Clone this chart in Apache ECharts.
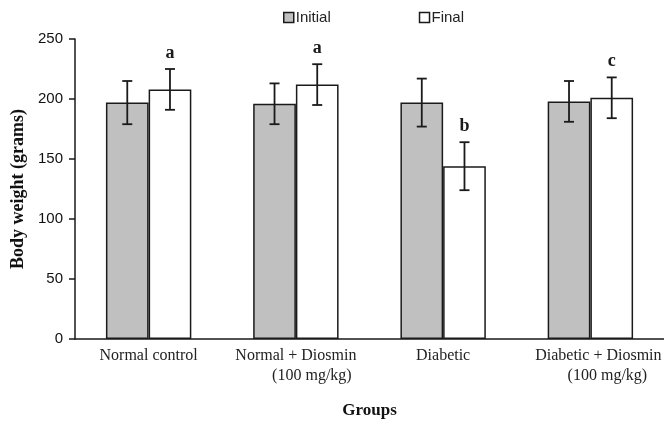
<!DOCTYPE html>
<html>
<head>
<meta charset="utf-8">
<script src="https://cdn.jsdelivr.net/npm/echarts@6/dist/echarts.min.js"></script>
<style>html,body{margin:0;padding:0;background:#fff;}#c{width:664px;height:422px;}</style>
</head>
<body>
<div id="c"></div>
<script>
var categories = ['Normal control', 'Normal + Diosmin\n(100 mg/kg)', 'Diabetic', 'Diabetic + Diosmin\n(100 mg/kg)'];
var initialValues = [197, 196, 197, 198];
var initialErrors = [18, 17, 20, 17];
var finalValues = [208, 212, 144, 201];
var finalErrors = [17, 17, 20, 17];
var finalLetters = ['a', 'a', 'b', 'c'];
var yTicks = [0, 50, 100, 150, 200, 250];

var CAT_GAP = 0.42;
var INK = '#1a1a1a';

function errorSeries(values, errors, side, letters) {
  return {
    type: 'custom',
    silent: true,
    z: 5,
    data: values.map(function (v, i) { return [i, v, errors[i]]; }),
    renderItem: function (params, api) {
      var i = api.value(0), v = api.value(1), e = api.value(2);
      var band = api.size([1, 0])[0];
      var bw = band * (1 - CAT_GAP) / 2;
      var c = api.coord([i, v]);
      var x = c[0] + side * bw / 2;
      var top = api.coord([i, v + e])[1];
      var bot = api.coord([i, v - e])[1];
      var cap = 5;
      var st = { stroke: INK, lineWidth: 1.8 };
      var children = [
        { type: 'line', shape: { x1: x, y1: top, x2: x, y2: bot }, style: st },
        { type: 'line', shape: { x1: x - cap, y1: top, x2: x + cap, y2: top }, style: st },
        { type: 'line', shape: { x1: x - cap, y1: bot, x2: x + cap, y2: bot }, style: st }
      ];
      if (letters) {
        children.push({
          type: 'text',
          style: {
            text: letters[params.dataIndex], x: x, y: top - 7,
            align: 'center', verticalAlign: 'bottom',
            font: 'bold 18px "Liberation Serif", "Times New Roman", serif',
            fill: INK
          }
        });
      }
      return { type: 'group', children: children };
    }
  };
}

var chart = echarts.init(document.getElementById('c'));
chart.setOption({
  backgroundColor: '#fff',
  animation: false,
  legend: {
    data: ['Initial', 'Final'],
    left: 283, top: 10, padding: 0,
    icon: 'rect', itemWidth: 10, itemHeight: 10, itemGap: 88,
    textStyle: { fontFamily: '"Liberation Sans", Arial, sans-serif', fontSize: 15, color: '#222', padding: [0, 0, 0, -3] },
    itemStyle: { borderColor: INK, borderWidth: 1.5 }
  },
  grid: { left: 75, right: 0, top: 39, bottom: 83, outerBoundsMode: 'none', containLabel: false },
  xAxis: {
    type: 'category',
    data: categories,
    axisLine: { lineStyle: { color: INK, width: 1.5 } },
    axisTick: { show: false },
    axisLabel: {
      interval: 0, margin: 7, color: '#222',
      fontFamily: '"Liberation Serif", "Times New Roman", serif', fontSize: 16, lineHeight: 20,
      formatter: function (val, idx) {
        var pads = [['s'], ['s', 'p32'], ['s'], ['p16', 'p34']][idx];
        return val.split('\n').map(function (l, k) { return '{' + pads[k] + '|' + l + '}'; }).join('\n');
      },
      rich: {
        s: { fontFamily: '"Liberation Serif", serif', fontSize: 16, lineHeight: 20, color: '#222' },
        p16: { fontFamily: '"Liberation Serif", serif', fontSize: 16, lineHeight: 20, color: '#222', padding: [0, 0, 0, 16] },
        p32: { fontFamily: '"Liberation Serif", serif', fontSize: 16, lineHeight: 20, color: '#222', padding: [0, 0, 0, 32] },
        p34: { fontFamily: '"Liberation Serif", serif', fontSize: 16, lineHeight: 20, color: '#222', padding: [0, 0, 0, 34] }
      }
    },
    name: 'Groups', nameLocation: 'middle', nameGap: 63,
    nameTextStyle: { fontFamily: '"Liberation Serif", "Times New Roman", serif', fontWeight: 'bold', fontSize: 17, color: '#111' }
  },
  yAxis: {
    type: 'value',
    min: yTicks[0], max: yTicks[yTicks.length - 1], interval: 50,
    splitLine: { show: false },
    axisLine: { show: true, lineStyle: { color: INK, width: 1.5 } },
    axisTick: { show: true, length: 6, lineStyle: { color: INK, width: 1.5 } },
    axisLabel: { margin: 12, color: '#111', fontFamily: '"Liberation Sans", Arial, sans-serif', fontSize: 15 },
    name: 'Body weight (grams)', nameLocation: 'middle', nameGap: 48,
    nameTextStyle: { fontFamily: '"Liberation Serif", "Times New Roman", serif', fontWeight: 'bold', fontSize: 18, color: '#111' }
  },
  series: [
    {
      name: 'Initial', type: 'bar', data: initialValues,
      barGap: '0%', barCategoryGap: (CAT_GAP * 100) + '%',
      itemStyle: { color: '#c0c0c0', borderColor: INK, borderWidth: 1.5 }
    },
    {
      name: 'Final', type: 'bar', data: finalValues,
      itemStyle: { color: '#ffffff', borderColor: INK, borderWidth: 1.5 }
    },
    errorSeries(initialValues, initialErrors, -1, null),
    errorSeries(finalValues, finalErrors, 1, finalLetters)
  ]
});
</script>
</body>
</html>
